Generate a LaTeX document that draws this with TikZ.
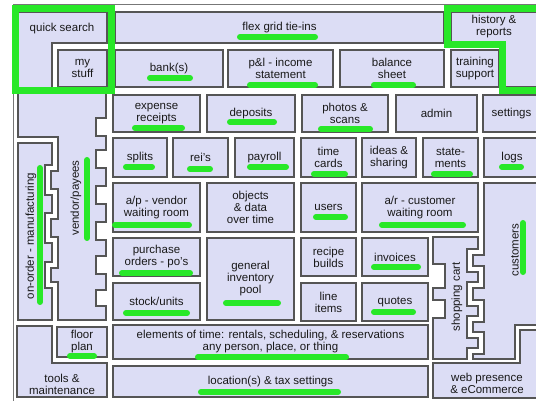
\documentclass[tikz,border=0pt]{standalone}
\usepackage{fontspec}
\setmainfont{Liberation Sans}
\definecolor{boxfill}{RGB}{220,221,245}
\definecolor{edgegray}{RGB}{85,85,85}
\definecolor{hlgreen}{RGB}{40,232,40}
\definecolor{ink}{RGB}{25,25,25}
\newcommand{\lblfont}{\fontsize{11.5}{12}\selectfont}
\newcommand{\rbox}[6]{\node[box, minimum width={#4-#2}, minimum height={#5-#3}] (#1) at ({(#2+#4)/2},{(#3+#5)/2}) {#6};}
\newcommand{\hlh}[4]{\draw[hlline] ({#2+3},#4) -- ({#3-3},#4);}
\newcommand{\hlv}[4]{\draw[hlline] (#2,{#3+3}) -- (#2,{#4-3});}
\begin{document}
\begin{tikzpicture}[x=1pt,y=-1pt,
  box/.style={draw=edgegray, fill=boxfill, line width=1.2pt, inner sep=0pt, align=center, text=ink, font=\lblfont},
  puzzle/.style={draw=edgegray, fill=boxfill, line width=1.2pt, line join=miter},
  txt/.style={inner sep=0pt, align=center, text=ink, font=\lblfont},
  hlline/.style={draw=hlgreen, line width=6pt, line cap=round},
  hlframe/.style={draw=hlgreen, line width=7pt, line join=miter},
  framegray/.style={draw=edgegray!80, line width=1pt}]
\useasboundingbox (0,0) rectangle (536,401);
\clip (0,0) rectangle (536,401);
\fill[white] (0,0) rectangle (536,401);
% outer frame
\draw[framegray] (13,405) -- (13,5) -- (545,5);
% puzzle shapes
\draw[puzzle] (18,12) -- (107,12) -- (107,43) -- (52,43) -- (52,89) -- (18,89) -- cycle;
\draw[puzzle] (451,12) -- (545,12) -- (545,87) -- (501,87) -- (501,43) -- (451,43) -- cycle;
\draw[puzzle] (18,93) -- (106,93) -- (106,118) -- (96,118) -- (96,136) -- (106,136) -- (106,150) -- (96,150) -- (96,168) -- (106,168) -- (106,186) -- (96,186) -- (96,204) -- (106,204) -- (106,222) -- (96,222) -- (96,240) -- (106,240) -- (106,256) -- (96,256) -- (96,274) -- (106,274) -- (106,290) -- (96,290) -- (96,306) -- (106,306) -- (106,320) -- (58,320) -- (58,282) -- (51,282) -- (51,268) -- (58,268) -- (58,237) -- (51,237) -- (51,219) -- (58,219) -- (58,189) -- (51,189) -- (51,171) -- (58,171) -- (58,137) -- (18,137) -- cycle;
\draw[puzzle] (18,143) -- (52,143) -- (52,165) -- (45,165) -- (45,195) -- (52,195) -- (52,213) -- (45,213) -- (45,243) -- (52,243) -- (52,262) -- (45,262) -- (45,288) -- (52,288) -- (52,320) -- (18,320) -- cycle;
\draw[puzzle] (433,237) -- (478,237) -- (478,249) -- (467,249) -- (467,272) -- (478,272) -- (478,282) -- (467,282) -- (467,306) -- (478,306) -- (478,316) -- (467,316) -- (467,338) -- (478,338) -- (478,348) -- (467,348) -- (467,359) -- (433,359) -- (433,318) -- (445,318) -- (445,300) -- (433,300) -- (433,288) -- (445,288) -- (445,264) -- (433,264) -- cycle;
\draw[puzzle] (484,183) -- (545,183) -- (545,325) -- (515,325) -- (515,359) -- (473,359) -- (473,354) -- (484,354) -- (484,332) -- (473,332) -- (473,322) -- (484,322) -- (484,300) -- (473,300) -- (473,288) -- (484,288) -- (484,266) -- (473,266) -- (473,255) -- (484,255) -- cycle;
\draw[puzzle] (433,363) -- (520,363) -- (520,330) -- (545,330) -- (545,398) -- (433,398) -- cycle;
\draw[puzzle] (17,326) -- (52,326) -- (52,363) -- (107,363) -- (107,397) -- (17,397) -- cycle;
% labels of puzzle shapes
\node[txt] (quick) at (62,29) {quick search};
\node[txt] (history) at (494,27) {history \&\\reports};
\node[txt, rotate=90] (vendor) at (76,198) {vendor/payees};
\node[txt, rotate=90] (onorder) at (31,236) {on-order - manufacturing};
\node[txt, rotate=90] (cart) at (457,297) {shopping cart};
\node[txt, rotate=90] (customers) at (515,250) {customers};
\node[txt] (webpres) at (487,383) {web presence\\\& eCommerce};
\node[txt] (tools) at (62,384) {tools \&\\maintenance};
% rectangular boxes
\rbox{mystuff}{58}{50}{107}{87}{my\\stuff}
\rbox{flex}{115}{12}{444}{43}{flex grid tie-ins}
\rbox{bank}{115}{50}{223}{87}{bank(s)}
\rbox{pl}{228}{50}{333}{87}{p\&l - income\\statement}
\rbox{balance}{340}{50}{444}{87}{balance\\sheet}
\rbox{training}{451}{50}{499}{87}{training\\support}
\rbox{expense}{113}{95}{200}{132}{expense\\receipts}
\rbox{deposits}{207}{95}{295}{132}{deposits}
\rbox{photos}{302}{95}{388}{132}{photos \&\\scans}
\rbox{admin}{396}{95}{477}{132}{admin}
\rbox{settings}{483}{95}{540}{132}{settings}
\rbox{splits}{113}{138}{167}{177}{splits}
\rbox{reis}{173}{138}{228}{177}{rei's}
\rbox{payroll}{235}{138}{294}{177}{payroll}
\rbox{timecards}{301}{138}{356}{177}{time\\cards}
\rbox{ideas}{362}{138}{416}{177}{ideas \&\\sharing}
\rbox{statements}{423}{138}{478}{177}{state-\\ments}
\rbox{logs}{484}{138}{540}{177}{logs}
\rbox{apvendor}{113}{183}{200}{232}{a/p - vendor\\waiting room}
\rbox{objects}{207}{183}{294}{232}{objects\\\& data\\over time}
\rbox{users}{301}{183}{356}{232}{users}
\rbox{arcust}{362}{183}{478}{232}{a/r - customer\\waiting room}
\rbox{purchase}{113}{238}{200}{276}{purchase\\orders - po's}
\rbox{stock}{113}{283}{200}{320}{stock/units}
\rbox{general}{207}{238}{294}{320}{general\\inventory\\pool}
\rbox{recipe}{301}{238}{356}{276}{recipe\\builds}
\rbox{invoices}{362}{238}{428}{276}{invoices}
\rbox{lineitems}{301}{283}{356}{321}{line\\items}
\rbox{quotes}{362}{283}{428}{321}{quotes}
\rbox{floor}{57}{327}{107}{357}{floor\\plan}
\rbox{elements}{113}{325}{428}{359}{elements of time: rentals, scheduling, \& reservations\\any person, place, or thing}
\rbox{location}{113}{366}{428}{397}{location(s) \& tax settings}
% green highlight frames
\draw[hlframe] (15,9) rectangle (111,91);
\draw[hlframe] (545,9) -- (447.5,9) -- (447.5,44.5) -- (502.5,44.5) -- (502.5,90.5) -- (545,90.5);
% green underlines
\hlh{flex}{237}{318}{37}
\hlh{bank}{147}{193}{78}
\hlh{pl}{247}{318}{85}
\hlh{balance}{371}{416}{85}
\hlh{expense}{132}{185}{128}
\hlh{deposits}{227}{277}{122}
\hlh{photos}{318}{373}{129}
\hlh{splits}{123}{155}{167}
\hlh{reis}{187}{213}{169}
\hlh{payroll}{247}{289}{167}
\hlh{timecards}{311}{348}{174}
\hlh{statements}{431}{473}{174}
\hlh{logs}{499}{524}{167}
\hlh{apvendor}{112}{192}{225}
\hlh{users}{313}{348}{217}
\hlh{arcust}{379}{466}{225}
\hlh{purchase}{119}{193}{273}
\hlh{general}{223}{281}{303}
\hlh{stock}{123}{190}{313}
\hlh{invoices}{371}{421}{267}
\hlh{quotes}{371}{416}{312}
\hlh{floor}{67}{97}{356}
\hlh{elements}{195}{349}{357}
\hlh{location}{198}{341}{392}
\hlv{vendor}{87}{157}{241}
\hlv{onorder}{40}{165}{305}
\hlv{customers}{523}{220}{275}
\end{tikzpicture}
\end{document}
